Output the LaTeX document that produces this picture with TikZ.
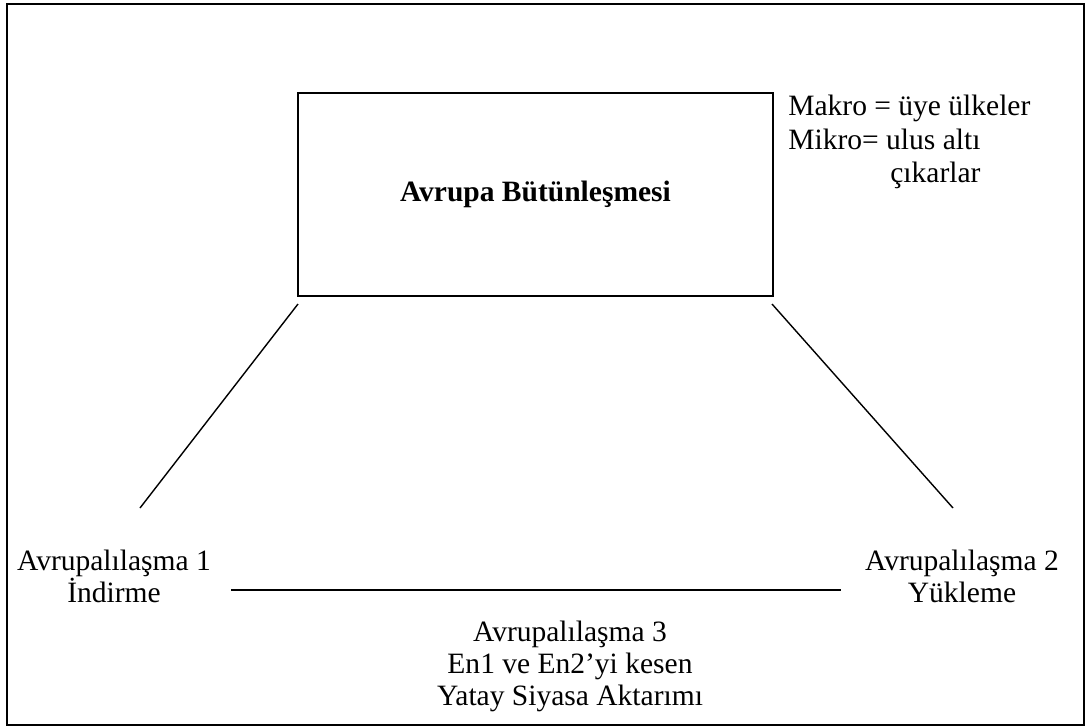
\documentclass[tikz,border=0pt]{standalone}
\usepackage{fontspec}
\setmainfont{Liberation Serif}
\begin{document}
\begin{tikzpicture}[x=0.02cm,y=-0.02cm,
  txt/.style={inner sep=0pt, align=center, font=\fontsize{16.8}{18.2}\selectfont},
  frame/.style={draw, line width=1.1pt},
  link/.style={line width=0.8pt}]
\useasboundingbox (0,0) rectangle (1086,727);
\draw[frame] (7,4) rectangle (1084,725);
\node[frame, minimum width=9.5cm, minimum height=4.06cm, inner sep=0pt,
      font=\fontsize{16.8}{18.2}\selectfont\bfseries] (box) at (535.5,194.5) {Avrupa Bütünleşmesi};
\node[txt, align=left, anchor=north west, font=\fontsize{16.8}{19}\selectfont] (note) at (788,95)
  {Makro = üye ülkeler\\Mikro= ulus altı\\\hspace*{2.04cm}çıkarlar};
\node[txt] (e1) at (114,576) {Avrupalılaşma 1\\İndirme};
\node[txt] (e2) at (962,576) {Avrupalılaşma 2\\Yükleme};
\node[txt] (e3) at (570,666) {Avrupalılaşma 3\\En1 ve En2’yi kesen\\Yatay Siyasa Aktarımı};
\coordinate (l1) at (298,304);
\coordinate (l2) at (140,508);
\coordinate (r1) at (772,304);
\coordinate (r2) at (953,508);
\coordinate (h1) at (231,590);
\coordinate (h2) at (841,590);
\draw[link] (l1) -- (l2);
\draw[link] (r1) -- (r2);
\draw[link] (h1) -- (h2);
\end{tikzpicture}
\end{document}
